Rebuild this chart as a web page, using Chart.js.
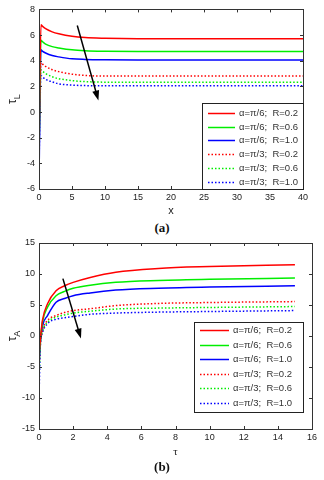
<!DOCTYPE html>
<html>
<head>
<meta charset="utf-8">
<script src="https://cdn.jsdelivr.net/npm/chart.js@4.4.0/dist/chart.umd.min.js"></script>
<style>
  body { margin: 0; background: #fff; width: 324px; height: 480px; position: relative; overflow: hidden; }
  .wrap { position: absolute; left: 0; width: 324px; }
  .cap { position: absolute; left: 0; width: 324px; text-align: center; font: bold 13px "Liberation Serif", "Times New Roman", serif; color: #111; }
</style>
</head>
<body>
<div class="wrap" style="top:0;height:218px"><canvas id="chartA" width="324" height="218"></canvas></div>
<div class="cap" style="top:220px">(a)</div>
<div class="wrap" style="top:232px;height:230px"><canvas id="chartB" width="324" height="230"></canvas></div>
<div class="cap" style="top:459px">(b)</div>

<script>
// shared legend labels
var labels = ["α=π/6;  R=0.2", "α=π/6;  R=0.6", "α=π/6;  R=1.0",
              "α=π/3;  R=0.2", "α=π/3;  R=0.6", "α=π/3;  R=1.0"];

// (a) tau_L vs x
var xA = [0, 0.3, 0.5, 1, 2, 3, 5, 7, 10, 15, 40];
var a1 = [-2.6, 6.8, 6.7, 6.5, 6.25, 6.1, 5.9, 5.8, 5.75, 5.72, 5.72];
var a2 = [-3.0, 5.6, 5.5, 5.3, 5.1, 5.0, 4.85, 4.78, 4.74, 4.72, 4.72];
var a3 = [-5.4, 4.85, 4.75, 4.6, 4.4, 4.3, 4.15, 4.1, 4.07, 4.05, 4.05];
var a4 = [-3.1, 3.85, 3.75, 3.55, 3.3, 3.15, 2.95, 2.85, 2.8, 2.8, 2.8];
var a5 = [-3.3, 3.3, 3.2, 3.0, 2.75, 2.6, 2.45, 2.37, 2.33, 2.33, 2.33];
var a6 = [-4.0, 2.85, 2.75, 2.55, 2.35, 2.2, 2.1, 2.06, 2.04, 2.04, 2.04];
var xTicksA = [0, 5, 10, 15, 20, 25, 30, 35, 40];
var yTicksA = [-6, -4, -2, 0, 2, 4, 6, 8];
var arrowA = [[5.8, 6.75], [9.0, 0.9]];

// (b) tau_A vs tau
var xB = [0, 0.08, 0.2, 0.5, 1, 1.5, 2, 3, 4.5, 7, 10, 15];
var b1 = [-3, -0.5, 2.5, 5.2, 7.3, 8.1, 8.65, 9.45, 10.3, 10.9, 11.2, 11.5];
var b2 = [-3.5, -0.7, 2.2, 4.65, 6.5, 7.2, 7.7, 8.2, 8.65, 8.95, 9.15, 9.35];
var b3 = [-4.5, -0.9, 1.6, 3.3, 5.45, 6.05, 6.5, 6.95, 7.4, 7.7, 7.9, 8.1];
var b4 = [-5, -1.2, 0.9, 2.5, 3.3, 3.8, 4.1, 4.4, 4.9, 5.25, 5.4, 5.55];
var b5 = [-7, -1.4, 0.7, 2.2, 3.05, 3.4, 3.7, 4.0, 4.35, 4.5, 4.6, 4.75];
var b6 = [-10, -1.6, 0.5, 2.0, 2.7, 2.95, 3.15, 3.5, 3.7, 3.85, 3.95, 4.1];
var xTicksB = [0, 2, 4, 6, 8, 10, 12, 14, 16];
var yTicksB = [-15, -10, -5, 0, 5, 10, 15];
var arrowB = [[1.4, 9.25], [2.46, -0.4]];

var colors = ["#ff0000", "#00ee00", "#0000ff", "#ff0000", "#00ee00", "#0000ff"];
var dashed = [false, false, false, true, true, true];

function makeSets(xs, series) {
    return series.map(function (s, i) {
        return {
            label: labels[i],
            data: s.map(function (v, j) { return {x: xs[j], y: v}; }),
            borderColor: colors[i],
            borderWidth: 1.5,
            borderDash: dashed[i] ? [1.5, 2] : [],
            pointRadius: 0,
            cubicInterpolationMode: 'monotone',
            fill: false
        };
    });
}

var tickFont = {family: "'Liberation Sans', Arial, sans-serif", size: 9};

// frame, inner ticks, arrow, legend, y title
var extras = {
    id: 'extras',
    afterDatasetsDraw: function (chart, args, opt) {
        var ctx = chart.ctx, ca = chart.chartArea;
        var xs = chart.scales.x, ys = chart.scales.y;
        ctx.save();
        ctx.strokeStyle = '#333';
        ctx.lineWidth = 1;
        ctx.strokeRect(Math.round(ca.left) + 0.5, Math.round(ca.top) + 0.5,
            Math.round(ca.right - ca.left), Math.round(ca.bottom - ca.top));
        ctx.beginPath();
        xs.ticks.forEach(function (t) {
            var px = Math.round(xs.getPixelForValue(t.value)) + 0.5;
            ctx.moveTo(px, ca.bottom); ctx.lineTo(px, ca.bottom - 3);
            ctx.moveTo(px, ca.top); ctx.lineTo(px, ca.top + 3);
        });
        ys.ticks.forEach(function (t) {
            var py = Math.round(ys.getPixelForValue(t.value)) + 0.5;
            ctx.moveTo(ca.left, py); ctx.lineTo(ca.left + 3, py);
            ctx.moveTo(ca.right, py); ctx.lineTo(ca.right - 3, py);
        });
        ctx.stroke();

        // arrow
        var x0 = xs.getPixelForValue(opt.arrow[0][0]), y0 = ys.getPixelForValue(opt.arrow[0][1]);
        var x1 = xs.getPixelForValue(opt.arrow[1][0]), y1 = ys.getPixelForValue(opt.arrow[1][1]);
        var ang = Math.atan2(y1 - y0, x1 - x0);
        ctx.strokeStyle = '#000';
        ctx.fillStyle = '#000';
        ctx.lineWidth = 1.5;
        ctx.beginPath();
        ctx.moveTo(x0, y0);
        ctx.lineTo(x1 - 6 * Math.cos(ang), y1 - 6 * Math.sin(ang));
        ctx.stroke();
        ctx.beginPath();
        ctx.moveTo(x1, y1);
        ctx.lineTo(x1 - 10 * Math.cos(ang) + 3.5 * Math.sin(ang), y1 - 10 * Math.sin(ang) - 3.5 * Math.cos(ang));
        ctx.lineTo(x1 - 10 * Math.cos(ang) - 3.5 * Math.sin(ang), y1 - 10 * Math.sin(ang) + 3.5 * Math.cos(ang));
        ctx.closePath();
        ctx.fill();

        // legend box
        var L = opt.legend;
        var bx = ca.right - L.right - L.w, by = ca.bottom - L.bottom - L.h;
        ctx.fillStyle = '#fff';
        ctx.fillRect(bx, by, L.w, L.h);
        ctx.strokeStyle = '#222';
        ctx.lineWidth = 1;
        ctx.strokeRect(Math.round(bx) + 0.5, Math.round(by) + 0.5, L.w, L.h);
        ctx.font = "9.5px 'Liberation Sans', Arial, sans-serif";
        ctx.textBaseline = 'middle';
        chart.data.datasets.forEach(function (ds, i) {
            var ly = Math.round(by + L.first + i * L.step) + 0.5;
            ctx.strokeStyle = ds.borderColor;
            ctx.lineWidth = 1.5;
            ctx.setLineDash(ds.borderDash);
            ctx.beginPath();
            ctx.moveTo(bx + 6, ly);
            ctx.lineTo(bx + L.line, ly);
            ctx.stroke();
            ctx.setLineDash([]);
            ctx.fillStyle = '#333';
            ctx.fillText(ds.label, bx + L.line + 4, ly);
        });

        // y title with subscript
        var cy = (ca.top + ca.bottom) / 2;
        ctx.translate(opt.titleX, cy);
        ctx.rotate(-Math.PI / 2);
        ctx.fillStyle = '#222';
        ctx.font = "12px 'Liberation Sans', Arial, sans-serif";
        var w1 = ctx.measureText('τ').width;
        ctx.font = "9px 'Liberation Sans', Arial, sans-serif";
        var w2 = ctx.measureText(opt.sub).width;
        ctx.textBaseline = 'alphabetic';
        ctx.textAlign = 'left';
        ctx.font = "12px 'Liberation Sans', Arial, sans-serif";
        ctx.fillText('τ', -(w1 + w2) / 2, 3);
        ctx.font = "9px 'Liberation Sans', Arial, sans-serif";
        ctx.fillText(opt.sub, -(w1 + w2) / 2 + w1, 7);
        ctx.restore();
    }
};

function makeChart(id, xs, series, xt, yt, opts) {
    return new Chart(document.getElementById(id).getContext('2d'), {
        type: 'line',
        data: {datasets: makeSets(xs, series)},
        plugins: [extras],
        options: {
            responsive: false,
            animation: false,
            layout: {padding: {top: opts.top, right: opts.right, bottom: 0, left: 0}},
            plugins: {
                legend: {display: false},
                tooltip: {enabled: false},
                extras: {arrow: opts.arrow, legend: opts.legend, titleX: 13, sub: opts.sub}
            },
            scales: {
                x: {
                    type: 'linear',
                    min: xt[0], max: xt[xt.length - 1],
                    afterBuildTicks: function (s) { s.ticks = xt.map(function (v) { return {value: v}; }); },
                    afterFit: function (s) { s.height = opts.xh; },
                    grid: {display: false, drawTicks: false},
                    border: {display: false},
                    ticks: {font: tickFont, color: '#222', padding: 3, maxRotation: 0},
                    title: {display: true, text: opts.xTitle, color: '#222', padding: {top: 0, bottom: opts.tpad},
                        font: {family: opts.xFont, size: 11}}
                },
                y: {
                    min: yt[0], max: yt[yt.length - 1],
                    afterBuildTicks: function (s) { s.ticks = yt.map(function (v) { return {value: v}; }); },
                    afterFit: function (s) { s.width = 39; },
                    grid: {display: false, drawTicks: false},
                    border: {display: false},
                    ticks: {font: tickFont, color: '#222', padding: 4}
                }
            }
        }
    });
}

makeChart('chartA', xA, [a1, a2, a3, a4, a5, a6], xTicksA, yTicksA, {
    top: 9, right: 21, xh: 29, tpad: 0, xTitle: 'x', sub: 'L',
    xFont: "'Liberation Sans', Arial, sans-serif", arrow: arrowA,
    legend: {w: 101, h: 86, right: 0, bottom: 0, first: 10, step: 13.7, line: 33}
});
makeChart('chartB', xB, [b1, b2, b3, b4, b5, b6], xTicksB, yTicksB, {
    top: 11, right: 12, xh: 33, tpad: 3, xTitle: 'τ', sub: 'A',
    xFont: "'Liberation Serif', 'Times New Roman', serif", arrow: arrowB,
    legend: {w: 109, h: 90, right: 9, bottom: 17, first: 8, step: 14.6, line: 35}
});
</script>
</body>
</html>
